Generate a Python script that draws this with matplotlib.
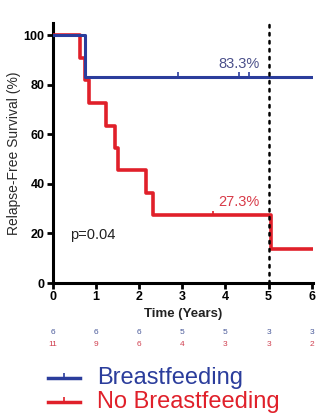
import matplotlib.pyplot as plt
from matplotlib.lines import Line2D

plt.rcParams['font.family'] = ['Liberation Sans', 'DejaVu Sans']

# Kaplan-Meier step curves (time in years, survival %)
bf_t = [0, 0.74, 6.0]
bf_s = [100, 83.3, 83.3]
bf_cens_t = [2.91, 4.32, 4.55]

nbf_t = [0, 0.62, 0.74, 0.83, 1.22, 1.43, 1.50, 2.15, 2.33, 5.05, 6.0]
nbf_s = [100, 90.9, 81.8, 72.7, 63.6, 54.5, 45.5, 36.4, 27.3, 13.6, 13.6]
nbf_cens_t = [3.7]

risk_times = [0, 1, 2, 3, 4, 5, 6]
risk_bf = [6, 6, 6, 5, 5, 3, 3]
risk_nbf = [11, 9, 6, 4, 3, 3, 2]

blue = '#2b3d9c'
red = '#e0202a'

fig = plt.figure(figsize=(3.21, 4.2), dpi=100)
ax = fig.add_axes([53/321, 1-283/420, 260/321, 260/420])

ax.step(nbf_t, nbf_s, where='post', color=red, lw=2.6, zorder=3)
ax.step(bf_t, bf_s, where='post', color=blue, lw=2.2, zorder=4)
ax.plot(bf_cens_t, [84.3]*len(bf_cens_t), ls='none', marker='|', ms=3, mew=1.2, color=blue, zorder=5)
ax.plot(nbf_cens_t, [28.3]*len(nbf_cens_t), ls='none', marker='|', ms=3, mew=1.2, color=red, zorder=5)

ax.axvline(5, color='black', lw=1.8, ls=(0, (1, 2.2)), dash_capstyle='round', zorder=6)

ax.text(4.32, 88.5, '83.3%', color='#4a4f8a', fontsize=10.5, ha='center', va='center')
ax.text(4.32, 32.8, '27.3%', color='#d83a48', fontsize=10.5, ha='center', va='center')
ax.text(0.4, 19.4, 'p=0.04', color='#222222', fontsize=10.5, ha='left', va='center')

ax.set_xlim(0, 6.03)
ax.set_ylim(0, 105)
ax.set_xticks(range(0, 7))
ax.set_yticks(range(0, 101, 20))
for s in ['top', 'right']:
    ax.spines[s].set_visible(False)
for s in ['left', 'bottom']:
    ax.spines[s].set_linewidth(2.2)
ax.tick_params(direction='out', length=4, width=2, labelsize=9, pad=2)
for lab in ax.get_xticklabels() + ax.get_yticklabels():
    lab.set_fontweight('bold')
ax.set_ylabel('Relapse-Free Survival (%)', fontsize=10, color='#2a2a2a', labelpad=2)
ax.set_xlabel('Time (Years)', fontsize=9.5, fontweight='bold', color='#222222', labelpad=3)

trans = ax.get_xaxis_transform()
for t, b, n in zip(risk_times, risk_bf, risk_nbf):
    ax.text(t, -0.192, str(b), color='#4a5a9a', fontsize=6, ha='center', va='center', transform=trans, clip_on=False)
    ax.text(t, -0.235, str(n), color='#d04050', fontsize=6, ha='center', va='center', transform=trans, clip_on=False)

# legend drawn by hand
for yy, col, lab in [(378, blue, 'Breastfeeding'), (402, red, 'No Breastfeeding')]:
    y = 1 - yy/420
    fig.add_artist(Line2D([48/321, 80/321], [y, y], color=col, lw=2.5))
    fig.add_artist(Line2D([64/321], [y + 0.006], marker='|', ms=3, mew=1.2, color=col))
    fig.text(97/321, y, lab, color=col, fontsize=17, va='center', ha='left')

plt.savefig('out.png', dpi=100)
